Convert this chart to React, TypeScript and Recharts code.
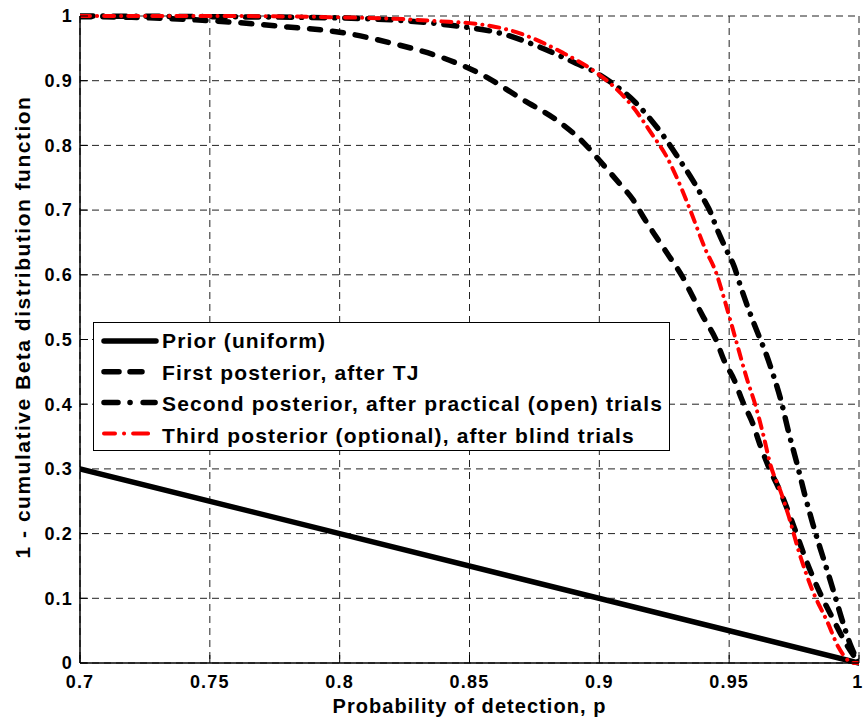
import { LineChart, Line, XAxis, YAxis, CartesianGrid } from "recharts"

const FONT = "'Liberation Sans', Arial, Helvetica, sans-serif"

// tick positions
const xTicks = [0.7, 0.75, 0.8, 0.85, 0.9, 0.95, 1]
const yTicks = [0, 0.1, 0.2, 0.3, 0.4, 0.5, 0.6, 0.7, 0.8, 0.9, 1]

const seriesNames = [
  "Prior (uniform)",
  "First posterior, after TJ",
  "Second posterior, after practical (open) trials",
  "Third posterior (optional), after blind trials",
]

// [p, 1 - CDF]
const priorPoints = [
  [0.7, 0.3],
  [1.0, 0.0],
]

const firstPoints = [
  [0.7, 0.999], [0.72, 0.998], [0.74, 0.995], [0.76, 0.99], [0.78, 0.983],
  [0.8, 0.975], [0.82, 0.958], [0.84, 0.935], [0.855, 0.909], [0.87, 0.872],
  [0.885, 0.835], [0.894, 0.804], [0.9, 0.777], [0.908, 0.74], [0.913, 0.716],
  [0.917, 0.689], [0.922, 0.658], [0.927, 0.628], [0.932, 0.597], [0.936, 0.566],
  [0.94, 0.535], [0.945, 0.499], [0.948, 0.468], [0.952, 0.437], [0.955, 0.406],
  [0.959, 0.371], [0.962, 0.336], [0.965, 0.305], [0.97, 0.262], [0.975, 0.21],
  [0.98, 0.155], [0.985, 0.108], [0.99, 0.068], [0.995, 0.03], [1.0, 0.0],
]

const secondPoints = [
  [0.7, 1.0], [0.75, 0.999], [0.8, 0.997], [0.82, 0.994], [0.842, 0.986],
  [0.864, 0.971], [0.877, 0.952], [0.891, 0.927], [0.898, 0.914], [0.905, 0.896],
  [0.914, 0.866], [0.92, 0.839], [0.925, 0.813], [0.931, 0.777], [0.936, 0.746],
  [0.94, 0.718], [0.943, 0.695], [0.945, 0.674], [0.949, 0.638], [0.952, 0.612],
  [0.954, 0.587], [0.958, 0.541], [0.961, 0.51], [0.964, 0.48], [0.967, 0.445],
  [0.97, 0.405], [0.973, 0.355], [0.976, 0.31], [0.979, 0.262], [0.982, 0.218],
  [0.985, 0.178], [0.988, 0.14], [0.991, 0.1], [0.994, 0.06], [0.997, 0.025],
  [1.0, 0.0],
]

const thirdPoints = [
  [0.7, 1.0], [0.75, 1.0], [0.8, 0.998], [0.82, 0.996], [0.842, 0.991],
  [0.85, 0.989], [0.868, 0.975], [0.886, 0.943], [0.899, 0.912], [0.905, 0.893],
  [0.913, 0.859], [0.92, 0.819], [0.926, 0.782], [0.932, 0.73], [0.935, 0.7],
  [0.941, 0.638], [0.945, 0.603], [0.948, 0.564], [0.951, 0.522], [0.954, 0.479],
  [0.957, 0.437], [0.96, 0.4], [0.963, 0.355], [0.966, 0.305], [0.97, 0.263],
  [0.973, 0.226], [0.977, 0.17], [0.982, 0.113], [0.988, 0.062], [0.992, 0.025],
  [0.998, 0.0], [1.0, 0.0],
]

const toRows = (pts: number[][]) => pts.map(([p, v]) => ({ p, v }))
const seriesData = [priorPoints, firstPoints, secondPoints, thirdPoints].map(toRows)

const lineStyles = [
  { stroke: "#000", width: 5.5, dash: undefined as string | undefined },
  { stroke: "#000", width: 5.5, dash: "11 12" },
  { stroke: "#000", width: 5.5, dash: "13 10 0.1 10" },
  { stroke: "#ff0000", width: 4, dash: "10 7 0.1 7" },
]

// legend samples follow the MATLAB legend glyphs
const legendDash = [undefined, "15 11 12 14 0.1 99", "14 12 0.1 13 12 99", "11 9 0.1 9 15 99"]

const tickProps = { fill: "#000", fontSize: 18, fontWeight: "bold", fontFamily: FONT, letterSpacing: 1.2 }
const titleStyle = { fill: "#000", fontWeight: "bold", fontFamily: FONT }

function LegendBox() {
  return (
    <svg
      width={577}
      height={129}
      style={{ position: "absolute", left: 93, top: 322, fontFamily: FONT }}
    >
      <rect x={0.5} y={0.5} width={576} height={128} fill="#fff" stroke="#000" strokeWidth={1} />
      {seriesNames.map((name, i) => (
        <g key={name}>
          <line
            x1={11}
            x2={i === 3 ? 56 : 63}
            y1={19 + i * 30.8}
            y2={19 + i * 30.8}
            stroke={lineStyles[i].stroke}
            strokeWidth={lineStyles[i].width}
            strokeDasharray={legendDash[i]}
            strokeLinecap="round"
          />
          <text x={69} y={26 + i * 31.7} fontSize={21} fontWeight="bold" letterSpacing={1.15} fill="#000">
            {name}
          </text>
        </g>
      ))}
    </svg>
  )
}

const YTitle = () => (
  <text
    x={30}
    y={327}
    transform="rotate(-90 30 327)"
    textAnchor="middle"
    fontSize={21}
    letterSpacing={1.5}
    {...titleStyle}
  >
    1 - cumulative Beta distribution function
  </text>
)

export default function App() {
  return (
    <div style={{ position: "relative", width: 863, height: 723, background: "#fff", fontFamily: FONT }}>
      <style>{"body{margin:0}"}</style>
      <LineChart width={863} height={723} margin={{ top: 16, right: 4, bottom: 0, left: 0 }}>
        <CartesianGrid stroke="#222" strokeDasharray="7 5" />
        <XAxis
          type="number"
          dataKey="p"
          domain={[0.7, 1]}
          ticks={xTicks}
          allowDataOverflow
          height={60}
          tick={tickProps}
          tickSize={-8}
          tickMargin={20}
          tickLine={{ stroke: "#000" }}
          axisLine={{ stroke: "#000", strokeWidth: 1.5 }}
          label={{
            value: "Probability of detection, p",
            position: "insideBottom",
            offset: 10,
            fontSize: 20,
            letterSpacing: 1.05,
            ...titleStyle,
          }}
        />
        <YAxis
          type="number"
          domain={[0, 1]}
          ticks={yTicks}
          width={80}
          tick={tickProps}
          tickSize={-8}
          tickMargin={15}
          tickLine={{ stroke: "#000" }}
          axisLine={{ stroke: "#000", strokeWidth: 1.5 }}
          label={{ content: () => <YTitle /> }}
        />
        {/* top and right edges of the axes box, with inward ticks */}
        <XAxis
          xAxisId="top"
          orientation="top"
          type="number"
          domain={[0.7, 1]}
          ticks={xTicks}
          allowDataOverflow
          height={0}
          tick={() => <g />}
          tickSize={-8}
          tickLine={{ stroke: "#000" }}
          axisLine={{ stroke: "#000", strokeWidth: 1.5 }}
        />
        <YAxis
          yAxisId="right"
          orientation="right"
          type="number"
          domain={[0, 1]}
          ticks={yTicks}
          width={0}
          tick={() => <g />}
          tickSize={-8}
          tickLine={{ stroke: "#000" }}
          axisLine={{ stroke: "#000", strokeWidth: 1.5 }}
        />
        {seriesData.map((rows, i) => (
          <Line
            key={seriesNames[i]}
            data={rows}
            dataKey="v"
            name={seriesNames[i]}
            type="monotone"
            stroke={lineStyles[i].stroke}
            strokeWidth={lineStyles[i].width}
            strokeDasharray={lineStyles[i].dash}
            strokeLinecap="round"
            dot={false}
            activeDot={false}
            isAnimationActive={false}
          />
        ))}
      </LineChart>
      <LegendBox />
    </div>
  )
}
